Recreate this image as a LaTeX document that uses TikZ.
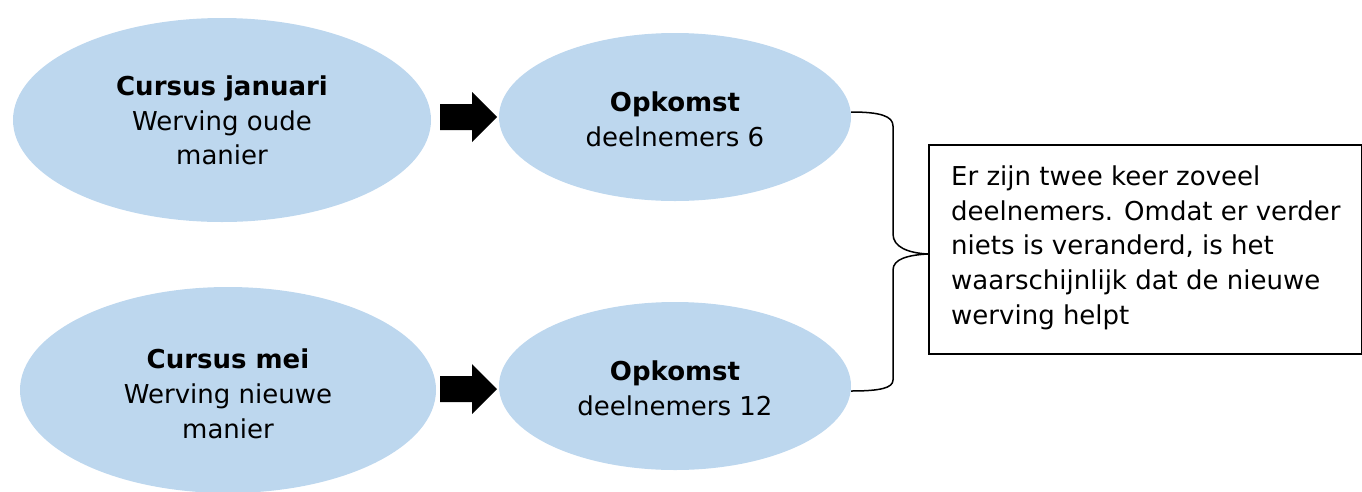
\documentclass[tikz,border=0pt]{standalone}
\usepackage{fontspec}
\setmainfont{DejaVu Sans}
\usetikzlibrary{shapes.geometric,calc}
\definecolor{ellblue}{RGB}{189,215,238}
\begin{document}
\begin{tikzpicture}[x=1pt,y=-1pt,
  ell/.style={ellipse, fill=ellblue, inner sep=0},
  txt/.style={font=\fontsize{26}{34.7}\selectfont, inner sep=0, align=center},
  bracepath/.style={draw=black, line width=1.5pt},
  blockarrow/.style={fill=black}]
\useasboundingbox (0,0) rectangle (1362,491);
% ellipses
\node[ell, minimum width=418, minimum height=204] (e1) at (222,120) {};
\node[ell, minimum width=352, minimum height=168] (e2) at (675,117) {};
\node[ell, minimum width=416, minimum height=206] (e3) at (228,390) {};
\node[ell, minimum width=352, minimum height=168] (e4) at (675,386) {};
% texts
\node[txt] (t1) at (222,120.6) {\textbf{Cursus januari}\\Werving oude\\manier};
\node[txt] (t2) at (675,119.6) {\textbf{Opkomst}\\deelnemers 6};
\node[txt] (t3) at (228,393.6) {\textbf{Cursus mei}\\Werving nieuwe\\manier};
\node[txt] (t4) at (675,388.1) {\textbf{Opkomst}\\deelnemers 12};
% block arrows
\coordinate (a1) at (440,117);
\coordinate (a2) at (440,389);
\fill[blockarrow, shift={(a1)}] (0,-13) -- (32,-13) -- (32,-25) -- (57,0) -- (32,25) -- (32,13) -- (0,13) -- cycle;
\fill[blockarrow, shift={(a2)}] (0,-13) -- (32,-13) -- (32,-25) -- (57,0) -- (32,25) -- (32,13) -- (0,13) -- cycle;
% box
\node[draw, line width=1.5pt, minimum width=433, minimum height=209, inner sep=0, anchor=north west] (box) at (928,144) {};
\node[txt, align=left, anchor=west] (bt) at (951,247.6) {Er zijn twee keer zoveel\\deelnemers. Omdat er verder\\niets is veranderd, is het\\waarschijnlijk dat de nieuwe\\werving helpt};
% brace
\coordinate (tip) at (928,254);
\draw[bracepath] ($(e2.east)+(0,-5)$) .. controls (880,112) and (893,116) .. (893,126) -- (893,234) .. controls (893,247) and (908,253) .. (tip) .. controls (908,255) and (893,259) .. (893,270) -- (893,380) .. controls (893,388) and (880,391) .. ($(e4.east)+(0,5)$);
\end{tikzpicture}
\end{document}
